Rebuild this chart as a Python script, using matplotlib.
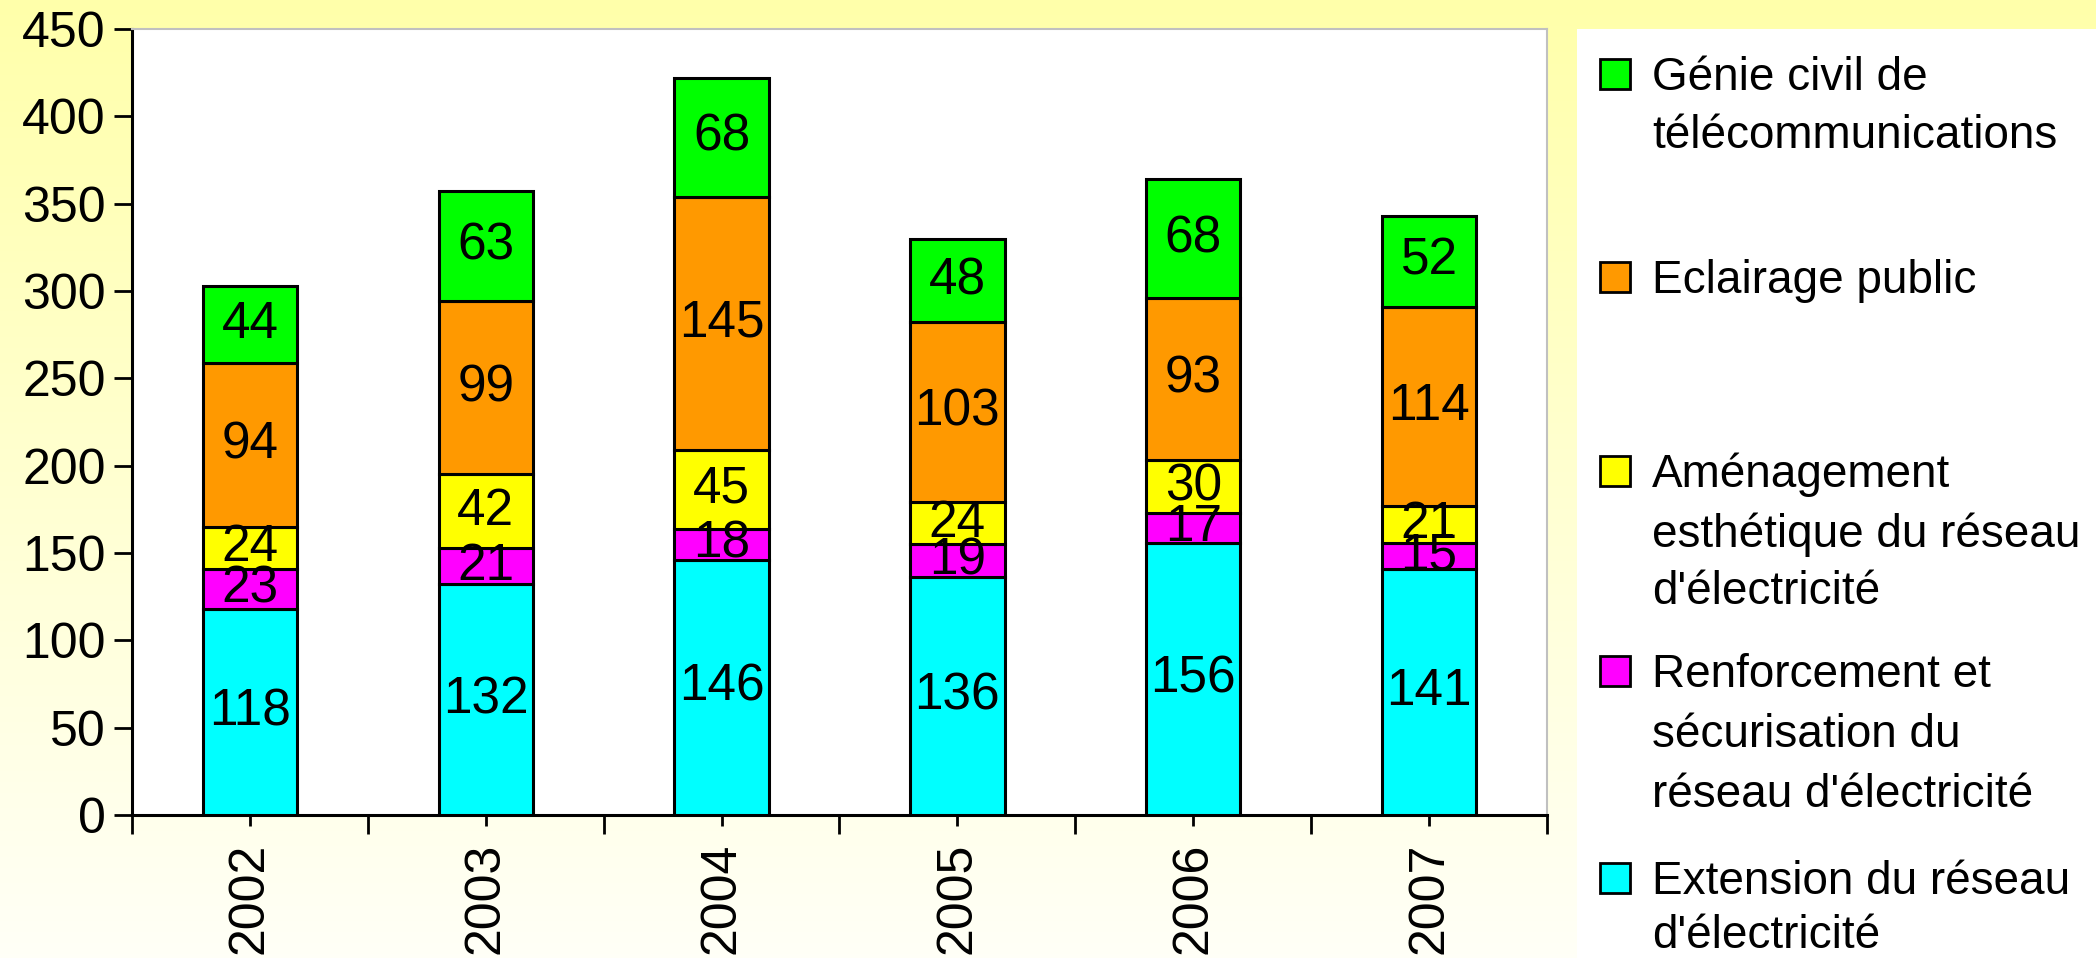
import matplotlib

matplotlib.use("Agg")
import matplotlib.pyplot as plt
import numpy as np
from matplotlib.patches import Rectangle

plt.rcParams["font.family"] = ["Liberation Sans", "DejaVu Sans"]

years = ["2002", "2003", "2004", "2005", "2006", "2007"]
extension = [118, 132, 146, 136, 156, 141]
renforcement = [23, 21, 18, 19, 17, 15]
amenagement = [24, 42, 45, 24, 30, 21]
eclairage = [94, 99, 145, 103, 93, 114]
genie_civil = [44, 63, 68, 48, 68, 52]

series = [extension, renforcement, amenagement, eclairage, genie_civil]
colors = ["#00FFFF", "#FF00FF", "#FFFF00", "#FF9900", "#00FF00"]

# legend, top to bottom, each entry split in lines as in the original
legend_lines = [
    ["Génie civil de", "télécommunications"],
    ["Eclairage public"],
    ["Aménagement", "esthétique du réseau", "d'électricité"],
    ["Renforcement et", "sécurisation du", "réseau d'électricité"],
    ["Extension du réseau", "d'électricité"],
]
legend_colors = ["#00FF00", "#FF9900", "#FFFF00", "#FF00FF", "#00FFFF"]
legend_baselines = [[90, 148], [293], [487, 547, 604], [687, 747, 807], [894, 948]]

W, H = 2096, 958
fig = plt.figure(figsize=(W / 100, H / 100), dpi=100)

# yellow gradient background
bg = fig.add_axes([0, 0, 1, 1], zorder=0)
grad = np.linspace(0, 1, 256)[:, None]
top = np.array([255, 255, 170]) / 255
bot = np.array([255, 255, 247]) / 255
img = top[None, None, :] * (1 - grad[..., None]) + bot[None, None, :] * grad[..., None]
bg.imshow(np.repeat(img, 2, axis=1), aspect="auto", extent=[0, 1, 0, 1])
bg.set_xlim(0, 1)
bg.set_ylim(0, 1)
bg.axis("off")

# white legend panel
fig.patches.append(Rectangle((1577 / W, 0), 1 - 1577 / W, 1 - 29 / H,
                             transform=fig.transFigure, facecolor="white",
                             edgecolor="none", zorder=1))

ax = fig.add_axes([132 / W, 1 - 815 / H, (1547 - 132) / W, (815 - 29) / H], zorder=2)
ax.set_facecolor("white")

x = np.arange(len(years))
bottom = np.zeros(len(years))
for vals, col in zip(series, colors):
    vals = np.array(vals, dtype=float)
    ax.bar(x, vals, 0.4, bottom=bottom, color=col, edgecolor="black", linewidth=2.2, zorder=3)
    for xi, b, v in zip(x, bottom, vals):
        ax.text(xi, b + v / 2, f"{int(v)}", ha="center", va="center", fontsize=37, zorder=4)
    bottom += vals

ax.set_xlim(-0.5, len(years) - 0.5)
ax.set_ylim(0, 450)
ax.set_yticks(np.arange(0, 451, 50))
ax.tick_params(axis="y", labelsize=36, length=13, width=2, direction="out", pad=6)
ax.set_xticks(np.arange(-0.5, len(years), 1))
ax.set_xticklabels([])
ax.set_xticks(x, minor=True)
ax.set_xticklabels(years, minor=True, rotation=90, fontsize=36)
ax.tick_params(axis="x", which="major", length=14, width=2, direction="out")
ax.tick_params(axis="x", which="minor", length=8, width=2, direction="out", pad=12)

for side in ["left", "bottom"]:
    ax.spines[side].set_linewidth(2.2)
    ax.spines[side].set_color("black")
for side in ["top", "right"]:
    ax.spines[side].set_linewidth(1.5)
    ax.spines[side].set_color("#C0C0C0")

# legend drawn by hand to keep Excel's uneven spacing
for lines, col, bases in zip(legend_lines, legend_colors, legend_baselines):
    cy = bases[0] - 16
    fig.patches.append(Rectangle((1600 / W, 1 - (cy + 15) / H), 30 / W, 30 / H,
                                 transform=fig.transFigure, facecolor=col,
                                 edgecolor="black", linewidth=2, zorder=3))
    for line, b in zip(lines, bases):
        fig.text(1652 / W, 1 - b / H, line, fontsize=33, va="baseline", ha="left", zorder=3)

fig.savefig("out.png", dpi=100)
